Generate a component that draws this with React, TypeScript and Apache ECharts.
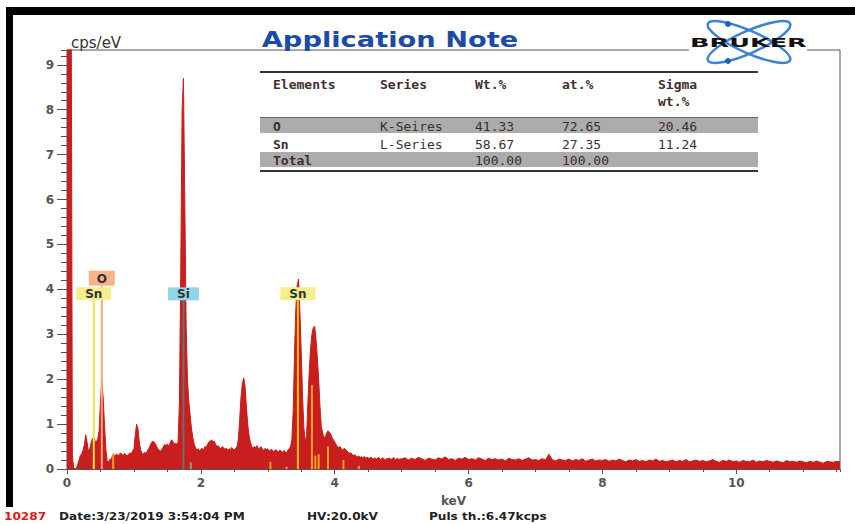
import React, { useEffect, useRef } from 'react';
import * as echarts from 'echarts';

// ---- Spectrum data (cps/eV) ----
const LOW_START_KEV = 0;
const LOW_STEP_KEV = 0.02;
const lowCounts = [
  12, 12, 12, 12, 0.3, 0.02, 0, 0.02, 0.1, 0.2,
  0.3, 0.34, 0.42, 0.55, 0.76, 0.6, 0.39, 0.45, 0.58, 0.68,
  0.7, 0.62, 0.6, 0.68, 0.85, 1.5, 1.95, 1.6, 1.0, 0.45,
  0.18, 0.15, 0.22, 0.2, 0.3, 0.33, 0.28, 0.34, 0.3, 0.32,
  0.36, 0.33, 0.3, 0.35, 0.31, 0.29, 0.33, 0.36, 0.34, 0.4,
  0.45, 0.75, 1.0, 0.9, 0.6, 0.42, 0.36, 0.33, 0.37, 0.35,
  0.4, 0.45, 0.52, 0.58, 0.62, 0.6, 0.56, 0.5, 0.44, 0.42,
  0.4, 0.44, 0.5, 0.55, 0.52, 0.56, 0.5, 0.58, 0.65, 0.62,
  0.55, 0.58, 0.55, 0.6, 1.5, 4.5, 8.0, 8.7, 6.0, 3.2,
  2.0, 1.5, 1.2, 0.9, 0.7, 0.55, 0.48, 0.42, 0.45, 0.4,
  0.44, 0.46, 0.42, 0.5, 0.48, 0.55, 0.6, 0.62, 0.65, 0.6,
  0.62, 0.55, 0.5, 0.52, 0.48, 0.45, 0.5, 0.47, 0.44, 0.46,
  0.42, 0.45, 0.43, 0.48, 0.44, 0.42, 0.46, 0.5, 0.65, 1.1,
  1.6, 1.9, 2.03, 1.85, 1.4, 1.0, 0.75, 0.6, 0.5, 0.46,
  0.5, 0.48, 0.52, 0.45, 0.47, 0.5, 0.44, 0.42, 0.46, 0.43,
  0.45, 0.4, 0.42, 0.44, 0.38, 0.41, 0.43, 0.4, 0.38, 0.42,
  0.4, 0.37, 0.41, 0.39, 0.36, 0.42, 0.45, 0.5, 0.65, 1.3,
  2.6, 3.6, 4.1, 4.23, 3.5, 2.6, 1.6, 0.9, 0.6, 0.75,
  1.5, 2.2, 2.7, 3.0, 3.15, 3.18, 2.9, 2.5, 2.0, 1.4,
  0.95, 0.8, 0.7, 0.72, 0.8, 0.85, 0.82, 0.78, 0.7, 0.65,
  0.6, 0.55, 0.5, 0.48, 0.5, 0.45, 0.42, 0.46, 0.44, 0.4,
  0.38, 0.35, 0.36, 0.33, 0.3, 0.32, 0.28, 0.27, 0.29, 0.26,
  0.27, 0.25, 0.28, 0.24, 0.26, 0.25, 0.23, 0.27, 0.24, 0.22,
  0.25, 0.22, 0.24, 0.26, 0.21, 0.23, 0.25, 0.22, 0.2, 0.24,
  0.22, 0.25, 0.21, 0.23, 0.26, 0.2, 0.22, 0.24, 0.21, 0.23,
];

const HIGH_START_KEV = 5.0;
const HIGH_STEP_KEV = 0.05;
const highCounts = [
  0.22, 0.25, 0.2, 0.24, 0.21, 0.26, 0.23, 0.19, 0.24, 0.22,
  0.2, 0.25, 0.22, 0.27, 0.21, 0.23, 0.19, 0.24, 0.22, 0.26,
  0.21, 0.23, 0.2, 0.25, 0.22, 0.19, 0.24, 0.21, 0.23, 0.2,
  0.22, 0.18, 0.24, 0.21, 0.2, 0.23, 0.19, 0.22, 0.25, 0.2,
  0.21, 0.19, 0.23, 0.2, 0.33, 0.21, 0.18, 0.22, 0.2, 0.19,
  0.22, 0.18, 0.21, 0.19, 0.23, 0.17, 0.2, 0.22, 0.18, 0.2,
  0.19, 0.21, 0.17, 0.2, 0.18, 0.22, 0.19, 0.16, 0.2, 0.18,
  0.21, 0.17, 0.19, 0.16, 0.2, 0.18, 0.22, 0.17, 0.19, 0.16,
  0.18, 0.2, 0.16, 0.19, 0.17, 0.21, 0.16, 0.18, 0.2, 0.17,
  0.19, 0.16, 0.18, 0.21, 0.17, 0.15, 0.19, 0.17, 0.2, 0.16,
  0.18, 0.15, 0.19, 0.17, 0.16, 0.2, 0.15, 0.18, 0.16, 0.19,
  0.17, 0.15, 0.18, 0.16, 0.14, 0.19, 0.16, 0.17, 0.15, 0.18,
  0.16, 0.14, 0.17, 0.15, 0.18, 0.15, 0.13, 0.17, 0.16, 0.15,
  0.17, 0.16,
];

// ---- Axis tick labels ----
const xTickLabels = [0, 2, 4, 6, 8, 10];
const yTickLabels = [0, 1, 2, 3, 4, 5, 6, 7, 8, 9];

// ---- Element line markers inside the spectrum ----
const markerEnergies = [0.69, 1.85, 3.04, 3.28, 3.66, 3.71, 3.76, 3.9, 4.13, 4.36];
const markerHeights = [0.35, 0.15, 0.16, 0.05, 1.87, 0.3, 0.33, 0.5, 0.2, 0.07];
const markerIsSi = [false, true, false, false, false, false, false, false, false, false];

// ---- Peak identification labels ----
const peakNames = ['O', 'Sn', 'Si', 'Sn'];
const peakEnergies = [0.52, 0.4, 1.74, 3.45];
const peakLevels = [4.25, 3.9, 3.9, 3.9];

// ---- Quantification table ----
const tableHeaders = ['Elements', 'Series', 'Wt.%', 'at.%', 'Sigma'];
const tableHeader2 = ['', '', '', '', 'wt.%'];
const tableElements = ['O', 'Sn', 'Total'];
const tableSeries = ['K-Seires', 'L-Series', ''];
const tableWt = ['41.33', '58.67', '100.00'];
const tableAt = ['72.65', '27.35', '100.00'];
const tableSigma = ['20.46', '11.24', ''];

// ---- Footer ----
const footerId = '10287';
const footerDate = 'Date:3/23/2019 3:54:04 PM';
const footerHV = 'HV:20.0kV';
const footerPuls = 'Puls th.:6.47kcps';

// ---- styles ----
const RED = '#c81e1e';
const AXIS = '#555';
const peakBoxFill: Record<string, string> = { O: '#f7b48a', Sn: '#f3ee8e', Si: '#93d4e6' };
const peakLineColor = ['#f6a876', '#f0e33a', '#6e6e6e', '#efc21c'];
const peakBoxW = [26, 35, 31, 35];
const peakBoxH = [15, 13, 13, 13];

function buildSpectrum(): number[][] {
  const pts: number[][] = [];
  lowCounts.forEach((c, i) => pts.push([Number((LOW_START_KEV + i * LOW_STEP_KEV).toFixed(2)), c]));
  highCounts.forEach((c, i) => pts.push([Number((HIGH_START_KEV + i * HIGH_STEP_KEV).toFixed(2)), c]));
  return pts;
}

const labelFont = { fontFamily: 'DejaVu Sans', fontWeight: 'bold' as const, fontSize: 12, color: '#555' };

function buildTableGraphics(): any[] {
  const els: any[] = [];
  const colX = [273, 380, 475, 562, 658];
  const left = 260, right = 758;
  const txtFont = { fontFamily: 'DejaVu Sans Mono', fontSize: 13 };
  const tcolor = '#3f2e2e';
  // rows bands
  els.push({ type: 'rect', z: 10, shape: { x: left, y: 118, width: right - left, height: 15 }, style: { fill: '#acacac' } });
  els.push({ type: 'rect', z: 10, shape: { x: left, y: 152, width: right - left, height: 15 }, style: { fill: '#acacac' } });
  els.push({ type: 'line', z: 11, shape: { x1: left, y1: 72, x2: right, y2: 72 }, style: { stroke: '#333', lineWidth: 2 } });
  els.push({ type: 'line', z: 11, shape: { x1: left, y1: 117.5, x2: right, y2: 117.5 }, style: { stroke: '#666', lineWidth: 1 } });
  els.push({ type: 'line', z: 11, shape: { x1: left, y1: 171, x2: right, y2: 171 }, style: { stroke: '#333', lineWidth: 2 } });
  const addText = (t: string, x: number, y: number, bold: boolean) => {
    if (!t) return;
    els.push({
      type: 'text', z: 12, x, y,
      style: { text: t, ...txtFont, fontWeight: bold ? 'bold' : 'normal', fill: tcolor, align: 'left', verticalAlign: 'middle', textAlign: 'left', textVerticalAlign: 'middle' },
    });
  };
  tableHeaders.forEach((h, i) => addText(h, colX[i], 84, true));
  tableHeader2.forEach((h, i) => addText(h, colX[i], 101, true));
  const rowY = [126, 144, 160];
  tableElements.forEach((_, r) => {
    addText(tableElements[r], colX[0], rowY[r], true);
    addText(tableSeries[r], colX[1], rowY[r], false);
    addText(tableWt[r], colX[2], rowY[r], false);
    addText(tableAt[r], colX[3], rowY[r], false);
    addText(tableSigma[r], colX[4], rowY[r], false);
  });
  return els;
}

function buildGraphics(): any[] {
  const g: any[] = [];
  // black frame
  g.push({ type: 'rect', z: 20, shape: { x: 6, y: 7, width: 849, height: 8 }, style: { fill: '#000' } });
  g.push({ type: 'rect', z: 20, shape: { x: 6, y: 7, width: 7, height: 500 }, style: { fill: '#000' } });
  // title
  g.push({
    type: 'text', z: 20, x: 390, y: 39, scaleX: 1.24,
    style: { text: 'Application Note', fontFamily: 'DejaVu Sans', fontWeight: 'bold', fontSize: 22, fill: '#1c4ba6', align: 'center', verticalAlign: 'middle', textAlign: 'center', textVerticalAlign: 'middle' },
  });
  // logo
  g.push({ type: 'rect', z: 20, shape: { x: 689, y: 47, width: 118, height: 6 }, style: { fill: '#fff' } });
  g.push({ type: 'ellipse', z: 21, x: 749, y: 42, rotation: 0.42, shape: { cx: 0, cy: 0, rx: 45, ry: 11 }, style: { fill: 'none', stroke: '#3b82d4', lineWidth: 2.5 } });
  g.push({ type: 'ellipse', z: 21, x: 749, y: 42, rotation: -0.42, shape: { cx: 0, cy: 0, rx: 45, ry: 11 }, style: { fill: 'none', stroke: '#3b82d4', lineWidth: 2.5 } });
  g.push({ type: 'circle', z: 22, shape: { cx: 728, cy: 24, r: 3 }, style: { fill: '#1f5fb8' } });
  g.push({ type: 'circle', z: 22, shape: { cx: 728, cy: 61, r: 3 }, style: { fill: '#1f5fb8' } });
  g.push({
    type: 'text', z: 23, x: 690, y: 43, scaleX: 2.13,
    style: { text: 'BRUKER', fontFamily: 'DejaVu Sans', fontWeight: 'bold', fontSize: 12, fill: '#111', align: 'left', verticalAlign: 'middle', textAlign: 'left', textVerticalAlign: 'middle' },
  });
  // y unit
  g.push({
    type: 'text', z: 20, x: 71, y: 43,
    style: { text: 'cps/eV', fontFamily: 'DejaVu Sans', fontSize: 15, fill: '#333', align: 'left', verticalAlign: 'middle', textAlign: 'left', textVerticalAlign: 'middle' },
  });
  // footer
  const foot = (t: string, x: number, color: string) => ({
    type: 'text', z: 25, x, y: 516, scaleX: 1.1,
    style: { text: t, fontFamily: 'DejaVu Sans', fontWeight: 'bold', fontSize: 11, fill: color, align: 'left', verticalAlign: 'middle', textAlign: 'left', textVerticalAlign: 'middle' },
  });
  g.push(foot(footerId, 4, '#e01818'));
  g.push(foot(footerDate, 59, '#222'));
  g.push(foot(footerHV, 307, '#222'));
  g.push(foot(footerPuls, 429, '#222'));
  return g.concat(buildTableGraphics());
}

export default function App() {
  const ref = useRef<HTMLDivElement>(null);
  useEffect(() => {
    if (!ref.current) return;
    const chart = echarts.init(ref.current, null, { renderer: 'svg' });
    const spectrum = buildSpectrum();
    const option: any = {
      animation: false,
      backgroundColor: '#fff',
      grid: { left: 67, right: 15, top: 50, bottom: 55, show: true, borderColor: '#555', borderWidth: 1, backgroundColor: 'transparent' },
      xAxis: [
        {
          type: 'value', min: 0, max: 11.55, interval: 2, position: 'bottom',
          axisLine: { show: true, lineStyle: { color: AXIS } },
          axisTick: { show: true, length: 5, lineStyle: { color: AXIS } },
          axisLabel: { ...labelFont, margin: 8, showMaxLabel: false, formatter: (v: number) => (xTickLabels.includes(v) ? String(v) : '') },
          splitLine: { show: false },
          name: 'keV', nameLocation: 'middle', nameGap: 26,
          nameTextStyle: { fontFamily: 'DejaVu Sans', fontWeight: 'bold', fontSize: 12, color: '#555' },
        },
        {
          type: 'value', min: 0, max: 11.55, interval: 0.5, position: 'bottom',
          axisLine: { show: false }, axisTick: { show: true, length: 3, lineStyle: { color: AXIS } },
          axisLabel: { show: false }, splitLine: { show: false },
        },
      ],
      yAxis: [
        {
          type: 'value', min: 0, max: 9.33, interval: 1, position: 'left',
          axisLine: { show: true, lineStyle: { color: AXIS } },
          axisTick: { show: true, length: 10, lineStyle: { color: AXIS } },
          axisLabel: { ...labelFont, margin: 13, showMaxLabel: false, formatter: (v: number) => (yTickLabels.includes(v) ? String(v) : '') },
          splitLine: { show: false },
        },
        {
          type: 'value', min: 0, max: 9.33, interval: 0.2, position: 'left',
          axisLine: { show: false }, axisTick: { show: true, length: 6, lineStyle: { color: AXIS } },
          axisLabel: { show: false }, splitLine: { show: false },
        },
      ],
      graphic: buildGraphics(),
      series: [
        {
          type: 'line', name: 'spectrum', data: spectrum, xAxisIndex: 0, yAxisIndex: 0,
          symbol: 'none', clip: true, z: 2,
          lineStyle: { color: RED, width: 1 },
          areaStyle: { color: RED, opacity: 1 },
        },
        {
          type: 'custom', name: 'markers', xAxisIndex: 0, yAxisIndex: 0, z: 3,
          data: markerEnergies.map((e, i) => [e, markerHeights[i]]),
          renderItem: (params: any, api: any) => {
            const i = params.dataIndex;
            const b = api.coord([api.value(0), 0]);
            const t = api.coord([api.value(0), api.value(1)]);
            return {
              type: 'rect',
              shape: { x: b[0] - 1, y: t[1], width: 2, height: b[1] - t[1] },
              style: { fill: markerIsSi[i] ? '#8a9a88' : '#f0a028' },
            };
          },
        },
        {
          type: 'custom', name: 'peakLabels', xAxisIndex: 0, yAxisIndex: 0, z: 4,
          data: peakEnergies.map((e, i) => [e, peakLevels[i]]),
          renderItem: (params: any, api: any) => {
            const i = params.dataIndex;
            const b = api.coord([api.value(0), 0]);
            const c = api.coord([api.value(0), api.value(1)]);
            const w = peakBoxW[i], h = peakBoxH[i];
            const name = peakNames[i];
            return {
              type: 'group',
              children: [
                { type: 'line', shape: { x1: b[0], y1: c[1] + h / 2, x2: b[0], y2: b[1] }, style: { stroke: peakLineColor[i], lineWidth: 2 } },
                { type: 'rect', shape: { x: c[0] - w / 2, y: c[1] - h / 2, width: w, height: h }, style: { fill: peakBoxFill[name] } },
                {
                  type: 'text',
                  style: { text: name, x: c[0], y: c[1] + 0.5, fill: '#333', fontFamily: 'DejaVu Sans', fontSize: 12, fontWeight: 'bold', align: 'center', verticalAlign: 'middle', textAlign: 'center', textVerticalAlign: 'middle' },
                },
              ],
            };
          },
        },
      ],
    };
    chart.setOption(option);
    return () => chart.dispose();
  }, []);
  return <div ref={ref} style={{ position: 'absolute', left: 0, top: 0, width: 855, height: 524, background: '#fff' }} />;
}
